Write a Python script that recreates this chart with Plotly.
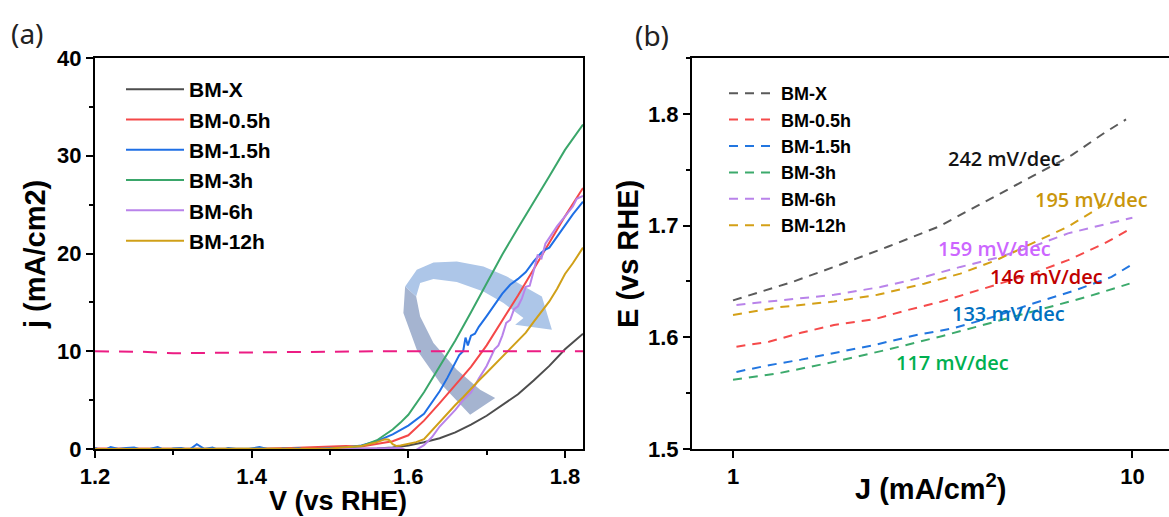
import math
import plotly.graph_objects as go

# ---------------- data: panel (a) LSV curves ----------------
series_names = ["BM-X", "BM-0.5h", "BM-1.5h", "BM-3h", "BM-6h", "BM-12h"]

v_bmx = [1.20, 1.30, 1.40, 1.50, 1.56, 1.58, 1.60, 1.62, 1.64, 1.66, 1.68, 1.70, 1.72, 1.74, 1.76, 1.78, 1.80, 1.823]
j_bmx = [0.0, 0.0, 0.0, 0.0, 0.05, 0.15, 0.35, 0.7, 1.1, 1.7, 2.5, 3.4, 4.5, 5.6, 7.0, 8.5, 10.2, 11.8]

v_05h = [1.20, 1.25, 1.30, 1.35, 1.40, 1.45, 1.48, 1.50, 1.52, 1.54, 1.56, 1.58, 1.60, 1.62, 1.64, 1.66, 1.68, 1.70, 1.72, 1.74, 1.76, 1.78, 1.80, 1.823]
j_05h = [0.05, 0.05, 0.0, 0.05, 0.0, 0.1, 0.2, 0.2, 0.3, 0.25, 0.5, 0.8, 1.4, 2.9, 4.7, 6.5, 8.4, 10.6, 13.1, 15.7, 18.4, 21.1, 23.8, 26.7]

v_15h = [1.20, 1.21, 1.22, 1.23, 1.24, 1.25, 1.26, 1.27, 1.28, 1.29, 1.30, 1.31, 1.32, 1.33, 1.34, 1.35,
         1.36, 1.37, 1.38, 1.39, 1.40, 1.41, 1.42, 1.43, 1.44, 1.45, 1.46, 1.47, 1.48, 1.49, 1.50,
         1.52, 1.54, 1.56, 1.58, 1.60, 1.62, 1.64, 1.65, 1.66, 1.665, 1.67, 1.673, 1.676, 1.68, 1.685,
         1.69, 1.70, 1.71, 1.72, 1.73, 1.74, 1.75, 1.76, 1.77, 1.775, 1.78, 1.79, 1.80, 1.81, 1.823]
j_15h = [0.1, -0.2, 0.2, 0.0, 0.1, 0.15, -0.1, 0.0, 0.2, -0.15, 0.05, 0.1, -0.1, 0.5, 0.0, 0.15,
         -0.2, 0.1, 0.0, -0.1, 0.05, 0.2, 0.0, -0.1, 0.05, 0.0, 0.1, -0.15, 0.0, 0.05, 0.1,
         0.15, 0.35, 0.8, 1.5, 2.4, 3.6, 5.9, 7.3, 8.8, 9.6, 10.0, 11.4, 10.6, 11.6, 11.8,
         12.5, 13.6, 14.8, 15.9, 16.8, 17.4, 18.1, 19.2, 20.1, 20.4, 20.6, 21.7, 22.9, 24.0, 25.3]

v_3h = [1.20, 1.30, 1.40, 1.45, 1.50, 1.54, 1.56, 1.58, 1.59, 1.60, 1.62, 1.64, 1.65, 1.66, 1.68, 1.70, 1.72, 1.74, 1.76, 1.78, 1.80, 1.823]
j_3h = [0.0, -0.05, -0.15, -0.2, -0.1, 0.3, 0.9, 2.0, 2.7, 3.5, 5.8, 8.4, 9.7, 11.1, 14.0, 17.0, 19.9, 22.6, 25.2, 27.9, 30.6, 33.2]

v_6h = [1.20, 1.30, 1.40, 1.50, 1.55, 1.59, 1.60, 1.61, 1.62, 1.63, 1.64, 1.65, 1.66, 1.67, 1.68, 1.69, 1.70,
        1.71, 1.715, 1.72, 1.725, 1.73, 1.735, 1.74, 1.745, 1.75, 1.755, 1.76, 1.765, 1.77, 1.775, 1.78,
        1.79, 1.80, 1.81, 1.815, 1.823]
j_6h = [0.0, 0.0, -0.05, 0.0, 0.05, 0.1, -0.2, -0.1, 0.4, 1.2, 2.3, 3.1, 4.0, 5.0, 5.8, 7.2, 8.5,
        10.2, 10.6, 11.6, 12.9, 13.2, 14.3, 14.6, 15.4, 16.6, 16.7, 18.2, 19.8, 19.5, 21.0, 21.6,
        22.8, 23.8, 24.8, 25.6, 25.9]

v_12h = [1.20, 1.30, 1.40, 1.50, 1.54, 1.56, 1.57, 1.575, 1.58, 1.585, 1.59, 1.60, 1.61, 1.62, 1.63, 1.64,
         1.65, 1.66, 1.67, 1.68, 1.69, 1.70, 1.71, 1.72, 1.73, 1.74, 1.75, 1.76, 1.77, 1.78, 1.79, 1.80, 1.81, 1.823]
j_12h = [0.0, 0.0, 0.0, 0.05, 0.3, 0.7, 1.0, 0.95, 0.5, 0.3, 0.35, 0.5, 0.7, 1.0, 1.9, 2.7,
         3.6, 4.5, 5.3, 6.2, 7.0, 7.8, 8.6, 9.4, 10.2, 11.0, 11.9, 13.0, 14.0, 15.1, 16.4, 17.9, 19.0, 20.6]

# 10 mA/cm2 reference line
v_ref = [1.20, 1.26, 1.30, 1.36, 1.42, 1.48, 1.52, 1.56, 1.823]
j_ref = [10.0, 9.95, 9.8, 9.85, 9.9, 9.9, 9.95, 10.0, 10.0]

# ---------------- data: panel (b) Tafel plots ----------------
J_bmx = [1.0, 1.26, 1.42, 1.79, 2.44, 3.27, 4.38, 5.61, 7.05, 8.51, 9.64]
E_bmx = [1.633, 1.644, 1.650, 1.663, 1.681, 1.699, 1.723, 1.744, 1.763, 1.783, 1.795]

J_05h = [1.02, 1.23, 1.48, 1.79, 2.25, 2.71, 3.33, 4.11, 5.61, 6.90, 8.51, 10.0]
E_05h = [1.5916, 1.596, 1.604, 1.611, 1.616, 1.624, 1.632, 1.642, 1.657, 1.669, 1.684, 1.698]

J_15h = [1.02, 1.23, 1.48, 1.99, 2.25, 2.88, 3.55, 4.56, 5.61, 7.19, 8.87, 9.95]
E_15h = [1.569, 1.575, 1.580, 1.589, 1.593, 1.602, 1.608, 1.619, 1.630, 1.642, 1.654, 1.665]

J_3h = [1.0, 1.31, 1.79, 2.44, 3.33, 4.56, 6.22, 7.66, 9.84]
E_3h = [1.562, 1.568, 1.578, 1.589, 1.601, 1.614, 1.627, 1.636, 1.648]

J_6h = [1.02, 1.31, 1.79, 2.34, 3.01, 3.71, 4.56, 5.61, 6.90, 8.51, 10.0]
E_6h = [1.629, 1.633, 1.638, 1.645, 1.654, 1.663, 1.671, 1.681, 1.693, 1.701, 1.707]

J_12h = [1.0, 1.31, 1.79, 2.30, 3.01, 3.71, 4.56, 5.61, 6.90, 8.61]
E_12h = [1.620, 1.627, 1.632, 1.638, 1.648, 1.657, 1.669, 1.684, 1.699, 1.72]

tafel_labels = ["242 mV/dec", "195 mV/dec", "159 mV/dec", "146 mV/dec", "133 mV/dec", "117 mV/dec"]

# ---------------- styles ----------------
colors_a = ["#4d4d4d", "#f44848", "#1f6fe5", "#3aa66a", "#b983ea", "#d0a018"]
colors_b = ["#5a5a5a", "#f54a4a", "#2276e0", "#3caa6c", "#b983ea", "#d4a017"]
label_colors = ["#141414", "#c9960c", "#cc66ff", "#c00000", "#0070c0", "#00b050"]
label_pos = [(0.68, 1.7596), (0.898, 1.7229), (0.654, 1.6798), (0.785, 1.6541), (0.690, 1.6213), (0.550, 1.5778)]

# curved arrow outline (data coordinates of panel a)
arrow_light_v = [1.5959, 1.6108, 1.6321, 1.6619, 1.6959, 1.7258, 1.7513, 1.7705, 1.7833, 1.7364, 1.7470,
                 1.7215, 1.6959, 1.6619, 1.6321, 1.6151, 1.6100]
arrow_light_j = [16.63, 18.33, 19.08, 19.18, 18.67, 17.65, 16.46, 15.60, 12.20, 12.71, 13.39,
                 14.93, 16.11, 17.08, 17.38, 16.97, 15.60]
arrow_dark_v = [1.6100, 1.6151, 1.6321, 1.6619, 1.6917, 1.7109, 1.6789, 1.6406, 1.6108, 1.5937, 1.5959]
arrow_dark_j = [15.60, 13.56, 10.84, 8.11, 6.06, 5.21, 3.51, 6.75, 10.15, 13.91, 16.63]

FONT = "Liberation Sans"
W, H = 1169, 517

fig = go.Figure()

a_data = [(v_bmx, j_bmx), (v_05h, j_05h), (v_15h, j_15h), (v_3h, j_3h), (v_6h, j_6h), (v_12h, j_12h)]
for name, (v, j), c in zip(series_names, a_data, colors_a):
    fig.add_trace(go.Scatter(x=v, y=j, mode="lines", name=name, line=dict(color=c, width=2),
                             xaxis="x", yaxis="y", legend="legend"))

fig.add_trace(go.Scatter(x=v_ref, y=j_ref, mode="lines", showlegend=False,
                         line=dict(color="#ec1c83", width=2, dash="14px,10px"), xaxis="x", yaxis="y"))

b_data = [(J_bmx, E_bmx), (J_05h, E_05h), (J_15h, E_15h), (J_3h, E_3h), (J_6h, E_6h), (J_12h, E_12h)]
for name, (J, E), c in zip(series_names, b_data, colors_b):
    fig.add_trace(go.Scatter(x=J, y=E, mode="lines", name=name, line=dict(color=c, width=2, dash="9px,7px"),
                             xaxis="x2", yaxis="y2", legend="legend2"))


def path_from(vs, js):
    pts = [f"{v},{j}" for v, j in zip(vs, js)]
    return "M" + " L".join(pts) + " Z"


fig.add_shape(type="path", path=path_from(arrow_dark_v, arrow_dark_j), xref="x", yref="y",
              fillcolor="#a5b4d0", line=dict(width=0), layer="below")
fig.add_shape(type="path", path=path_from(arrow_light_v, arrow_light_j), xref="x", yref="y",
              fillcolor="#adc6e8", line=dict(width=0), layer="below")

tickfont = dict(family=FONT, size=22, color="black", weight="bold")
axis_common = dict(showline=True, linecolor="black", linewidth=2, ticks="outside", ticklen=7,
                   tickwidth=2, tickcolor="black", showgrid=False, zeroline=False, tickfont=tickfont,
                   automargin=False)

fig.update_layout(
    width=W, height=H, template="none",
    paper_bgcolor="white", plot_bgcolor="white",
    margin=dict(l=0, r=0, t=0, b=0),
    xaxis=dict(domain=[95 / W, 583 / W], range=[1.2, 1.823], dtick=0.2, tick0=1.2, mirror=True,
               minor=dict(ticks="outside", ticklen=4, tickwidth=2, tickcolor="black", dtick=0.1),
               anchor="y", **axis_common),
    yaxis=dict(domain=[1 - 449 / H, 1 - 58 / H], range=[0, 40], dtick=10, mirror=True,
               minor=dict(ticks="outside", ticklen=4, tickwidth=2, tickcolor="black", dtick=5),
               anchor="x", **axis_common),
    xaxis2=dict(domain=[692 / W, 1.0], type="log", range=[-0.1027, 1.0917], tickvals=[1, 10],
                ticktext=["1", "10"], mirror=True, anchor="y2", **axis_common),
    yaxis2=dict(domain=[1 - 449 / H, 1 - 58 / H], range=[1.5, 1.85], dtick=0.1, mirror=False,
                minor=dict(ticks="outside", ticklen=4, tickwidth=2, tickcolor="black", dtick=0.05),
                anchor="x2", **axis_common),
    legend=dict(x=121 / W, y=1 - 69 / H, xanchor="left", yanchor="top", bgcolor="rgba(0,0,0,0)",
                font=dict(family=FONT, size=21, color="black", weight="bold"), itemwidth=58),
    legend2=dict(x=724 / W, y=1 - 75 / H, xanchor="left", yanchor="top", bgcolor="rgba(0,0,0,0)",
                 font=dict(family=FONT, size=18, color="black", weight="bold"), itemwidth=47),
)

title_font = dict(family=FONT, size=29, color="black", weight="bold")
ann = [
    dict(text="(a)", x=27 / W, y=1 - 33 / H, font=dict(family="Noto Sans", size=28, color="#222")),
    dict(text="(b)", x=652 / W, y=1 - 35 / H, font=dict(family="Noto Sans", size=28, color="#222")),
    dict(text="V (vs RHE)", x=338 / W, y=1 - 501 / H, font=dict(family=FONT, size=27, color="black", weight="bold")),
    dict(text="j (mA/cm2)", x=35 / W, y=1 - 255 / H, font=title_font, textangle=-90),
    dict(text="J (mA/cm<sup>2</sup>)", x=931 / W, y=1 - 487 / H, font=title_font),
    dict(text="E (vs RHE)", x=628 / W, y=1 - 254 / H, font=title_font, textangle=-90),
]
for a in ann:
    fig.add_annotation(xref="paper", yref="paper", xanchor="center", yanchor="middle",
                       showarrow=False, **a)

for txt, (lx, ly), c in zip(tafel_labels, label_pos, label_colors):
    fig.add_annotation(text=txt, x=lx, y=ly, xref="x2", yref="y2", showarrow=False,
                       xanchor="center", yanchor="middle",
                       font=dict(family="Open Sans", size=20, color=c, weight=600))

fig.write_html("out.html")
